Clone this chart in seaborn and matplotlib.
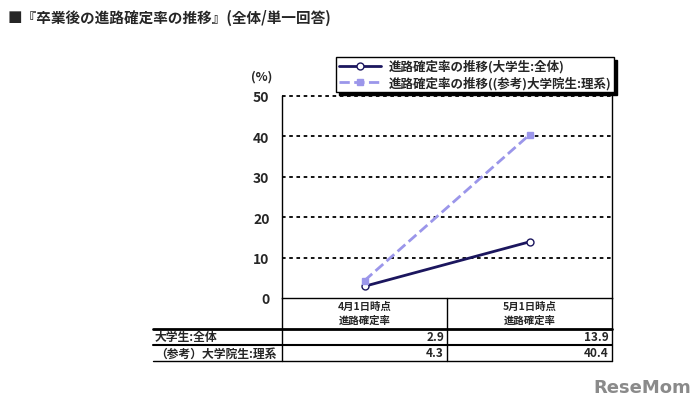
import pandas as pd
import seaborn as sns
import matplotlib.pyplot as plt
from matplotlib.lines import Line2D

# データ
categories = ["4月1日時点\n進路確定率", "5月1日時点\n進路確定率"]
series_names = ["進路確定率の推移(大学生:全体)", "進路確定率の推移((参考)大学院生:理系)"]
row_labels = ["大学生:全体", "（参考）大学院生:理系"]
undergrad_all = [2.9, 13.9]
grad_science = [4.3, 40.4]
y_ticks = [0, 10, 20, 30, 40, 50]

df = pd.DataFrame({
    "時点": categories * 2,
    "値": undergrad_all + grad_science,
    "系列": [series_names[0]] * 2 + [series_names[1]] * 2,
})

sns.set_style("white")
plt.rcParams["font.family"] = ["Noto Sans CJK JP", "DejaVu Sans"]

navy = "#1b165e"
lavender = "#9b96ea"

fig = plt.figure(figsize=(7, 4.14), dpi=100)
ax = fig.add_axes([282 / 700, 1 - 299 / 414, 330 / 700, 202 / 414])

for name, color, ls, marker, mfc in [
    (series_names[0], navy, "-", "o", "white"),
    (series_names[1], lavender, "--", "s", lavender),
]:
    sub = df[df["系列"] == name]
    sns.lineplot(data=sub, x="時点", y="値", ax=ax, color=color, linestyle=ls,
                 linewidth=2, marker=marker, markersize=5, markerfacecolor=mfc,
                 markeredgecolor=color, markeredgewidth=1, label=name, sort=False)

ax.set_xlim(-0.5, 1.5)
ax.set_ylim(0, 50)
ax.set_yticks(y_ticks)
ax.set_yticklabels([str(t) for t in y_ticks], fontsize=10, fontweight="bold")
ax.set_xticks([0.5])
ax.set_xticklabels([""])
ax.tick_params(axis="x", direction="in", length=4, width=1, color="black")
ax.tick_params(axis="y", length=0, pad=9)
ax.set_xlabel("")
ax.set_ylabel("")

for t in y_ticks[1:]:
    ax.axhline(t, color="black", linestyle=(0, (2, 2)), linewidth=1.3, zorder=0, clip_on=False)

for side in ["left", "right", "bottom"]:
    ax.spines[side].set_color("black")
    ax.spines[side].set_linewidth(1)
ax.spines["top"].set_visible(False)

fig.text(262 / 700, 1 - 77 / 414, "(%)", fontsize=9, fontweight="bold",
         ha="center", va="center")

# 凡例
handles = [
    Line2D([], [], color=navy, linewidth=2, marker="o", markersize=5,
           markerfacecolor="white", markeredgecolor=navy),
    Line2D([], [], color=lavender, linewidth=2, linestyle="--", marker="s",
           markersize=5, markerfacecolor=lavender, markeredgecolor=lavender),
]
leg = ax.legend(handles, series_names, loc="upper left",
                bbox_to_anchor=(336 / 700, 1 - 58 / 414), bbox_transform=fig.transFigure,
                prop={"size": 9, "weight": "bold"}, frameon=True, fancybox=False,
                shadow={"color": "black", "alpha": 1}, borderpad=0.2,
                handlelength=3.4, labelspacing=0.25, handletextpad=0.6, borderaxespad=0)
leg.get_frame().set_edgecolor("black")
leg.get_frame().set_linewidth(1)

# タイトル
fig.text(8 / 700, 1 - 18 / 414, "■『卒業後の進路確定率の推移』(全体/単一回答)",
         fontsize=10.5, fontweight="bold", ha="left", va="center")

# データ表
def px(x):
    return x / 700

def py(y):
    return 1 - y / 414

col_edges = [282, 447, 612]
for x in col_edges:
    fig.add_artist(Line2D([px(x), px(x)], [py(299), py(362)], color="black", linewidth=1))
fig.add_artist(Line2D([px(153), px(612)], [py(330), py(330)], color="black", linewidth=2))
fig.add_artist(Line2D([px(153), px(612)], [py(346), py(346)], color="black", linewidth=1.5))
fig.add_artist(Line2D([px(153), px(612)], [py(362), py(362)], color="black", linewidth=1))

for i, cat in enumerate(categories):
    cx = (col_edges[i] + col_edges[i + 1]) / 2
    fig.text(px(cx), py(314), cat, fontsize=7.5, fontweight="bold",
             ha="center", va="center", linespacing=1.5)

for r, (label, vals) in enumerate(zip(row_labels, [undergrad_all, grad_science])):
    yc = 338 + r * 16
    fig.text(px(155), py(yc), label, fontsize=8.5, fontweight="bold", ha="left", va="center")
    for i, v in enumerate(vals):
        fig.text(px(col_edges[i + 1] - 3), py(yc), f"{v:.1f}", fontsize=8.5,
                 fontweight="bold", ha="right", va="center")

fig.text(px(642), py(388), "ReseMom", fontsize=13, fontweight="bold",
         color="#8a8a8a", ha="center", va="center", family=["DejaVu Sans"])

fig.savefig("out.png", dpi=100, facecolor="white")
